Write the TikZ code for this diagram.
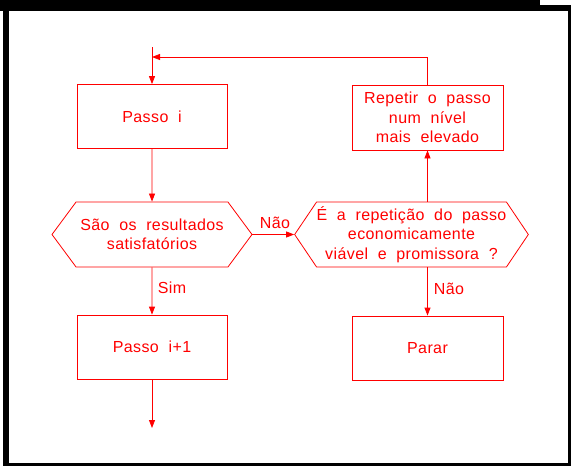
\documentclass[tikz,border=0pt]{standalone}
\usepackage{fontspec}
\setmainfont[WordSpace=2,LetterSpace=2.5]{Liberation Sans}
\usetikzlibrary{arrows.meta,shapes.symbols}

\newlength{\du}
\setlength{\du}{1pt}
\definecolor{dialinecolor}{rgb}{1.000000, 0.000000, 0.000000}

\tikzset{
  passobox/.style={draw=dialinecolor, line width=0.8\du, text=dialinecolor,
    minimum width=150\du, minimum height=64\du, inner sep=0pt, align=center,
    font=\fontsize{16}{19.5}\selectfont},
  testbox/.style={passobox, shape=signal, signal to=west and east,
    signal pointer angle=112},
  flowline/.style={draw=dialinecolor, line width=0.8\du,
    -{Triangle[length=8pt,width=6pt]}},
  flowlabel/.style={text=dialinecolor, inner sep=0pt,
    font=\fontsize{16}{19.5}\selectfont}
}

\begin{document}
\begin{tikzpicture}
\pgftransformxscale{1.000000}
\pgftransformyscale{-1.000000}
\useasboundingbox (0\du,0\du) rectangle (571\du,466\du);
% frame
\fill[black] (0\du,0\du) rectangle (571\du,466\du);
\fill[white] (9\du,11\du) rectangle (568\du,463\du);
\fill[white] (540\du,0\du) rectangle (571\du,5\du);
\fill[white] (0\du,11\du) rectangle (3\du,466\du);
% steps and tests
\node[passobox] (passoi) at (152\du,116.5\du){Passo i};
\node[testbox, minimum width=200\du, minimum height=65\du, signal pointer angle=107] (satisf) at (152\du,234.5\du){São os resultados\\satisfatórios};
\node[testbox, minimum width=233\du, minimum height=65\du] (viavel) at (411.5\du,234.5\du){É a repetição do passo\\economicamente\\viável e promissora ?};
\node[passobox, minimum width=151\du, minimum height=65\du] (repetir) at (427.5\du,117.5\du){Repetir o passo\\num nível\\mais elevado};
\node[passobox, minimum width=151\du] (parar) at (427.5\du,348\du){Parar};
\node[passobox] (passoi1) at (152\du,347\du){Passo i+1};
\coordinate (entrada) at (152\du,47\du);
\coordinate (retorno) at (152\du,57\du);
\coordinate (saida) at (152\du,428\du);
% connectors
\draw[flowline] (entrada) -- (passoi);
\draw[flowline] (passoi) -- (satisf);
\draw[flowline] (satisf) -- (passoi1);
\draw[flowline] (passoi1) -- (saida);
\draw[flowline] (satisf.east) -- (viavel.west);
\draw[flowline] (viavel.north -| repetir) -- (repetir);
\draw[flowline] (viavel.south -| parar) -- (parar);
\draw[flowline] (repetir) |- (retorno);
% labels
\node[flowlabel] (nao1) at (275\du,223\du){Não};
\node[flowlabel] (sim) at (172\du,288\du){Sim};
\node[flowlabel] (nao2) at (449\du,289\du){Não};
\end{tikzpicture}
\end{document}
